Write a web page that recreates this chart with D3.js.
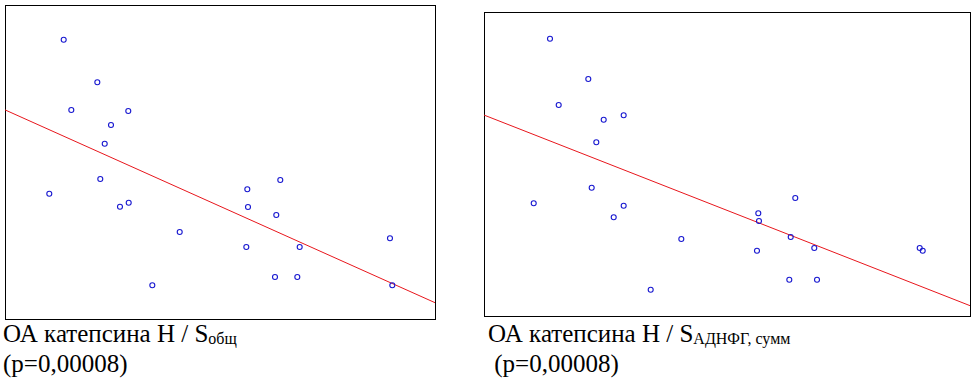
<!DOCTYPE html>
<html>
<head>
<meta charset="utf-8">
<script src="https://cdn.jsdelivr.net/npm/d3@7"></script>
<style>
  body { margin: 0; background: #fff; }
</style>
</head>
<body>
<svg id="chart" width="979" height="390"></svg>
<script>
// values, both axes in relative units 0..100
const leftX = [13.65, 21.47, 15.42, 28.67, 24.65, 23.19, 22.16, 10.30, 28.77, 26.74, 40.63,
               34.26, 56.35, 64.02, 56.51, 63.09, 56.12, 68.53, 62.79, 67.98, 89.53, 90.07];
const leftY = [88.95, 75.38, 66.56, 66.24, 61.78, 55.83, 44.59, 39.90, 37.04, 35.76, 27.71,
               10.73, 41.31, 44.27, 35.67, 33.12, 22.93, 22.93, 13.38, 13.38, 25.70, 10.73];
const leftFit = [66.6, 5.2];   // trend line value at x=0 and x=100

const rightX = [13.58, 21.46, 15.37, 24.63, 28.74, 23.11, 22.16, 10.23, 28.74, 26.69, 40.60,
                34.30, 56.44, 64.05, 56.58, 63.11, 56.17, 67.96, 62.82, 68.52, 89.65, 90.27];
const rightY = [91.22, 77.96, 69.41, 64.57, 66.02, 57.14, 42.20, 37.07, 36.28, 32.47, 25.33,
                8.65, 33.78, 38.82, 31.25, 25.99, 21.48, 22.37, 11.94, 11.94, 22.37, 21.48];
const rightFit = [66.1, 3.4];

const leftLabel = ['ОА катепсина Н / S', 'общ', '(p=0,00008)'];
const rightLabel = ['ОА катепсина Н / S', 'АДНФГ, сумм', ' (p=0,00008)'];

const serif = "'Times New Roman', 'Liberation Serif', 'DejaVu Serif', serif";
const svg = d3.select('#chart');

const drawPanel = (box, xs, ys, fit, label, textX) => {
  const x = d3.scaleLinear().domain([0, 100]).range([box.x0, box.x1]);
  const y = d3.scaleLinear().domain([0, 100]).range([box.y1, box.y0]);
  const g = svg.append('g');

  g.append('rect')
    .attr('x', box.x0 + 0.5).attr('y', box.y0 + 0.5)
    .attr('width', box.x1 - box.x0).attr('height', box.y1 - box.y0)
    .attr('fill', '#fff').attr('stroke', '#000').attr('stroke-width', 1);

  g.append('line')
    .attr('x1', x(0)).attr('y1', y(fit[0]))
    .attr('x2', x(100)).attr('y2', y(fit[1]))
    .attr('stroke', '#e8161c').attr('stroke-width', 1);

  g.selectAll('circle.pt')
    .data(d3.range(xs.length))
    .join('circle')
    .attr('class', 'pt')
    .attr('cx', i => x(xs[i]))
    .attr('cy', i => y(ys[i]))
    .attr('r', 2.5)
    .attr('fill', 'none')
    .attr('stroke', '#1818d0')
    .attr('stroke-width', 1.1);

  const t = g.append('text').attr('x', textX).attr('y', 342)
    .style('font-family', serif).attr('font-size', 25).attr('fill', '#000');
  t.append('tspan').text(label[0]);
  t.append('tspan').attr('font-size', 16).attr('dy', 2).text(label[1]);
  g.append('text').attr('x', textX).attr('y', 372)
    .style('font-family', serif).attr('font-size', 25).attr('fill', '#000')
    .attr('xml:space', 'preserve')
    .text(label[2]);
};

drawPanel({x0: 5, x1: 435, y0: 5, y1: 319}, leftX, leftY, leftFit, leftLabel, 3);
drawPanel({x0: 484, x1: 970, y0: 12, y1: 316}, rightX, rightY, rightFit, rightLabel, 488);
</script>
</body>
</html>
